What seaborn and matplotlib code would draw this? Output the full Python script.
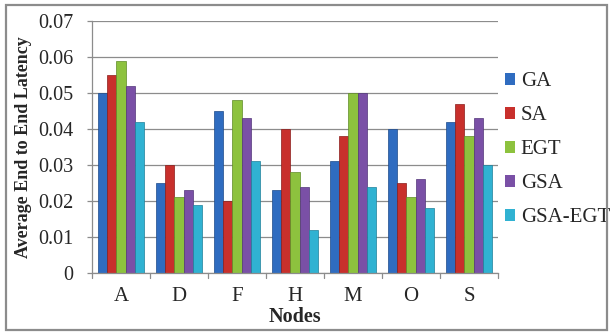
import numpy as np
import pandas as pd
import matplotlib
matplotlib.use("Agg")
import matplotlib.pyplot as plt
from matplotlib.patches import Rectangle
import seaborn as sns

nodes = ["A", "D", "F", "H", "M", "O", "S"]
methods = ["GA", "SA", "EGT", "GSA", "GSA-EGT"]
ga = [0.050, 0.025, 0.045, 0.023, 0.031, 0.040, 0.042]
sa = [0.055, 0.030, 0.020, 0.040, 0.038, 0.025, 0.047]
egt = [0.059, 0.021, 0.048, 0.028, 0.050, 0.021, 0.038]
gsa = [0.052, 0.023, 0.043, 0.024, 0.050, 0.026, 0.043]
gsa_egt = [0.042, 0.019, 0.031, 0.012, 0.024, 0.018, 0.030]
yticks = [0, 0.01, 0.02, 0.03, 0.04, 0.05, 0.06, 0.07]
ytick_labels = ["0", "0.01", "0.02", "0.03", "0.04", "0.05", "0.06", "0.07"]

colors = ["#2f6cc0", "#c8302c", "#8dc23e", "#7a50a6", "#30b2d2"]
edge_colors = ["#1d4a8a", "#8a1c1a", "#5f8a26", "#52357a", "#1e7f99"]

series = [ga, sa, egt, gsa, gsa_egt]
df = pd.DataFrame({
    "Nodes": np.tile(nodes, len(methods)),
    "Method": np.repeat(methods, len(nodes)),
    "Latency": np.concatenate(series),
})

sns.set_style("white")
plt.rcParams["font.family"] = ["Liberation Serif", "DejaVu Serif"]

fig = plt.figure(figsize=(6.1, 3.33), dpi=100)
ax = fig.add_axes([92 / 610, 1 - 273 / 333, (498 - 92) / 610, (273 - 21) / 333])

sns.barplot(data=df, x="Nodes", y="Latency", hue="Method", order=nodes,
            hue_order=methods, palette=colors, width=0.78, saturation=1,
            edgecolor="none", ax=ax, legend=True)

# darker outline per series for a little depth
for cont, ec in zip(ax.containers, edge_colors):
    for bar in cont:
        bar.set_edgecolor(ec)
        bar.set_linewidth(0.5)

ax.set_ylim(0, 0.07)
ax.set_xlim(-0.5, len(nodes) - 0.5)
ax.set_yticks(yticks)
ax.set_yticklabels(ytick_labels, fontsize=14.5)
ax.yaxis.grid(True, color="#8c8c8c", linewidth=0.9)
ax.set_axisbelow(True)
ax.tick_params(axis="y", length=3.6, width=0.9, color="#8c8c8c", pad=10, left=True)

# category ticks sit between the groups
ax.set_xticks(np.arange(len(nodes)))
ax.set_xticklabels(nodes, fontsize=15)
ax.tick_params(axis="x", length=0, pad=10)
for b in np.arange(-0.5, len(nodes), 1.0):
    ax.plot([b, b], [0, -0.0014], color="#8c8c8c", lw=0.9, clip_on=False)

for s in ["top", "right"]:
    ax.spines[s].set_visible(False)
for s in ["left", "bottom"]:
    ax.spines[s].set_color("#8c8c8c")
    ax.spines[s].set_linewidth(0.9)

ax.set_xlabel("Nodes", fontsize=14.5, fontweight="bold", labelpad=1)
ax.set_ylabel("Average End to End Latency", fontsize=13, fontweight="bold")
ax.yaxis.set_label_coords(-0.148, 0.5)

handles, labels = ax.get_legend_handles_labels()
ax.legend(handles, labels, loc="upper left", bbox_to_anchor=(505 / 610, 1 - 72 / 333),
          bbox_transform=fig.transFigure,
          frameon=False, fontsize=15, handlelength=0.5, handleheight=0.5,
          handletextpad=0.25, labelspacing=0.72, borderaxespad=0, borderpad=0)

fig.patches.append(Rectangle((6 / 610, 1 - 330 / 333), 601 / 610, 325 / 333,
                             transform=fig.transFigure, fill=False,
                             edgecolor="#8c8c8c", linewidth=1.6))

fig.savefig("out.png", dpi=100)
